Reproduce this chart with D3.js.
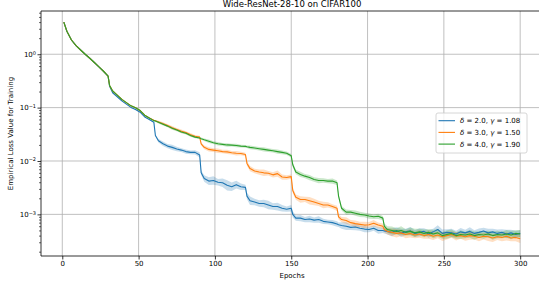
<!DOCTYPE html>
<html><head><meta charset="utf-8">
<script src="https://cdn.jsdelivr.net/npm/d3@7"></script>
<style>
html,body{margin:0;padding:0;background:#fff;overflow:hidden}
text{font-family:"DejaVu Sans",sans-serif;fill:#000}
</style></head><body>
<svg id="chart" width="539" height="285"></svg>
<script>
const title = "Wide-ResNet-28-10 on CIFAR100";
const xLabel = "Epochs";
const yLabel = "Empirical Loss Value for Training";
const xTicks = [0, 50, 100, 150, 200, 250, 300];
const yTicks = [1e-3, 1e-2, 1e-1, 1];
const seriesNames = [["2.0","1.08"],["3.0","1.50"],["4.0","1.90"]];

const epochs = [1,3,6,9,12,15,18,21,24,27,30,31,33,36,39,42,45,48,51,54,57,60,61,63,66,69,72,75,78,81,84,87,90,91,93,96,99,102,105,108,111,114,117,120,121,123,126,129,132,135,138,141,144,147,150,151,153,156,159,162,165,168,171,174,177,180,181,183,186,189,192,195,198,201,204,207,210,211,213,216,219,222,225,228,231,234,237,240,243,246,249,252,255,258,261,264,267,270,273,276,279,282,285,288,291,294,297,300];

const lossBlue = [4.0,2.7,1.85,1.45,1.2,1.0,0.84,0.70,0.58,0.48,0.39,0.25,0.19,0.16,0.134,0.116,0.101,0.092,0.082,0.067,0.06,0.053,0.03,0.024,0.021,0.019,0.018,0.0168,0.016,0.015,0.0145,0.0145,0.013,0.006,0.0047,0.0042,0.0043,0.004,0.0039,0.0035,0.0033,0.0036,0.0033,0.0032,0.0022,0.0018,0.0017,0.0016,0.0016,0.0015,0.0014,0.0014,0.0013,0.00125,0.0013,0.001,0.00085,0.00085,0.0008,0.00082,0.00078,0.0008,0.00074,0.00072,0.0007,0.00066,0.00064,0.00062,0.0006,0.00057,0.00058,0.00055,0.00053,0.00052,0.00055,0.0005,0.0005,0.00049,0.00048,0.00046,0.0005,0.00045,0.00047,0.00049,0.00044,0.00046,0.00048,0.00043,0.00047,0.00052,0.00044,0.00046,0.00045,0.00043,0.00047,0.00045,0.00048,0.00044,0.00046,0.00049,0.00045,0.00047,0.00044,0.00046,0.00043,0.00045,0.00042,0.00044];

const lossOrange = [4.0,2.7,1.85,1.45,1.2,1.0,0.84,0.70,0.58,0.48,0.39,0.26,0.205,0.172,0.143,0.124,0.108,0.099,0.088,0.072,0.064,0.058,0.057,0.054,0.05,0.046,0.042,0.039,0.036,0.034,0.031,0.029,0.028,0.021,0.018,0.0165,0.016,0.0155,0.015,0.0148,0.0143,0.014,0.0138,0.0132,0.009,0.0072,0.0065,0.0062,0.006,0.0059,0.0055,0.0058,0.005,0.0049,0.0051,0.0028,0.0021,0.0019,0.0019,0.0018,0.0017,0.0016,0.0015,0.0015,0.0014,0.0013,0.0009,0.0008,0.00077,0.0007,0.00067,0.00065,0.00063,0.00064,0.00068,0.00063,0.0006,0.00052,0.00048,0.00046,0.00044,0.00045,0.00042,0.00044,0.00041,0.00043,0.0004,0.00042,0.00039,0.00041,0.00038,0.0004,0.00042,0.00039,0.0004,0.00038,0.0004,0.00039,0.00037,0.00039,0.00038,0.00036,0.00038,0.00037,0.00039,0.00036,0.00037,0.00035];

const lossGreen = [4.0,2.7,1.85,1.45,1.2,1.0,0.84,0.70,0.58,0.48,0.39,0.26,0.205,0.172,0.143,0.124,0.108,0.099,0.088,0.072,0.064,0.057,0.056,0.053,0.049,0.045,0.041,0.038,0.035,0.033,0.03,0.028,0.027,0.0262,0.025,0.0235,0.022,0.021,0.0205,0.02,0.0198,0.0195,0.019,0.0188,0.0185,0.018,0.0175,0.017,0.0165,0.016,0.0155,0.015,0.0145,0.014,0.0125,0.0085,0.0062,0.0056,0.0052,0.0049,0.0045,0.0043,0.0043,0.0042,0.0042,0.0039,0.0022,0.0013,0.0011,0.0011,0.00105,0.001,0.00097,0.00093,0.0009,0.00092,0.00085,0.0006,0.00052,0.0005,0.00048,0.0005,0.00046,0.00048,0.00045,0.00047,0.00044,0.00046,0.00043,0.00045,0.0004,0.00042,0.00044,0.0004,0.00042,0.00041,0.00043,0.0004,0.00042,0.00041,0.00043,0.0004,0.00042,0.00041,0.00043,0.00041,0.00044,0.00043];

// band half-width, percent
const spreadBlue = [2,2,2,2,2,2,2,2,2,2,2,2,2,2,2,2,2,2,2,2,2,2,3,8,10,10,12,10,8,10,8,10,12,10,15,18,20,15,20,25,20,18,15,12,15,20,15,15,18,20,15,18,15,12,15,15,12,15,12,15,12,15,12,10,12,12,10,15,18,12,15,12,15,12,12,15,12,12,15,18,15,20,15,18,15,20,15,18,15,20,18,15,20,15,18,15,20,15,18,15,20,15,18,15,20,15,18,15];
const spreadOrange = [2,2,2,2,2,2,2,2,2,2,2,2,2,2,2,2,2,2,2,2,2,2,3,5,6,6,8,6,8,6,8,6,6,6,8,10,8,10,8,10,8,10,8,8,10,12,10,12,15,10,12,15,12,10,10,12,12,15,12,18,15,12,15,12,10,12,12,12,15,12,15,12,15,12,15,12,12,12,15,18,20,15,18,20,15,18,15,20,18,15,20,18,15,20,15,18,20,15,18,15,20,18,15,18,20,15,18,20];
const spreadGreen = [2,2,2,2,2,2,2,2,2,2,2,2,2,2,2,2,2,2,2,2,2,2,3,5,6,5,6,5,6,5,6,5,5,5,6,8,6,8,6,8,6,8,6,6,6,8,8,8,10,8,8,10,8,8,8,10,10,12,10,12,10,12,10,10,12,10,10,10,12,10,12,12,10,12,10,12,10,12,15,18,15,20,15,18,20,15,18,15,20,18,15,20,18,15,20,15,18,20,15,18,15,20,18,15,18,20,15,18];

const colors = ["#1f77b4", "#ff7f0e", "#2ca02c"];
const allLoss = [lossBlue, lossOrange, lossGreen];
const allSpread = [spreadBlue, spreadOrange, spreadGreen];

const L = 41, R = 543, T = 11, B = 256;
const svg = d3.select("#chart");
const x = d3.scaleLinear().domain([-13.95, 314.95]).range([L, R]);
const y = d3.scaleLog().domain([Math.pow(10, -3.78), Math.pow(10, 0.81)]).range([B, T]);

svg.append("defs").append("clipPath").attr("id", "clip")
  .append("rect").attr("x", L).attr("y", T).attr("width", R - L).attr("height", B - T);

// grid
const grid = svg.append("g");
xTicks.forEach(t => grid.append("line").attr("x1", x(t)).attr("x2", x(t)).attr("y1", T).attr("y2", B)
  .attr("stroke", "#b0b0b0").attr("stroke-width", 0.8));
yTicks.forEach(t => grid.append("line").attr("x1", L).attr("x2", R).attr("y1", y(t)).attr("y2", y(t))
  .attr("stroke", "#b0b0b0").attr("stroke-width", 0.8));

const plot = svg.append("g").attr("clip-path", "url(#clip)");
const area = d3.area().x(d => x(d.e)).y0(d => y(d.v / (1 + d.s / 100))).y1(d => y(d.v * (1 + d.s / 100)));
const line = d3.line().x(d => x(d.e)).y(d => y(d.v));

allLoss.forEach((loss, i) => {
  const data = epochs.map((e, j) => ({e: e, v: loss[j], s: allSpread[i][j]}));
  plot.append("path").datum(data).attr("d", area).attr("fill", colors[i]).attr("fill-opacity", 0.25).attr("stroke", "none");
});
allLoss.forEach((loss, i) => {
  const data = epochs.map((e, j) => ({e: e, v: loss[j]}));
  plot.append("path").datum(data).attr("d", line).attr("fill", "none").attr("stroke", colors[i])
    .attr("stroke-width", 1.1).attr("stroke-linejoin", "round");
});

// axes
const xAxis = d3.axisBottom(x).tickValues(xTicks).tickSize(3.5).tickPadding(2).tickFormat(d3.format("d"));
const gx = svg.append("g").attr("transform", `translate(0,${B})`).call(xAxis);
gx.select(".domain").remove();
gx.selectAll("text").attr("font-size", 7).attr("font-family", "DejaVu Sans").attr("fill", "#000");
gx.selectAll("line").attr("stroke", "#000").attr("stroke-width", 0.8);

const minor = [];
for (let p = -4; p <= 0; p++) for (let m = 2; m <= 9; m++) {
  const v = m * Math.pow(10, p);
  if (y(v) <= B && y(v) >= T) minor.push(v);
}
const gyMinor = svg.append("g").attr("transform", `translate(${L},0)`)
  .call(d3.axisLeft(y).tickValues(minor).tickSize(2).tickFormat(""));
gyMinor.select(".domain").remove();
gyMinor.selectAll("line").attr("stroke", "#000").attr("stroke-width", 0.6);

const gy = svg.append("g").attr("transform", `translate(${L},0)`)
  .call(d3.axisLeft(y).tickValues(yTicks).tickSize(3.5).tickPadding(2).tickFormat(""));
gy.select(".domain").remove();
gy.selectAll("line").attr("stroke", "#000").attr("stroke-width", 0.8);
gy.selectAll(".tick").each(function(d) {
  const p = Math.round(Math.log10(d));
  const t = d3.select(this).append("text").attr("x", -5).attr("dy", "0.32em")
    .attr("text-anchor", "end").attr("font-size", 7).attr("fill", "#000");
  t.append("tspan").text("10");
  t.append("tspan").attr("dy", "-0.45em").attr("font-size", 5).text(p === 0 ? "0" : "\u2212" + (-p));
});

// spines
svg.append("line").attr("x1", L).attr("x2", L).attr("y1", T).attr("y2", B).attr("stroke", "#000").attr("stroke-width", 0.8);
svg.append("line").attr("x1", L).attr("x2", R).attr("y1", B).attr("y2", B).attr("stroke", "#000").attr("stroke-width", 0.8);
svg.append("line").attr("x1", L).attr("x2", R).attr("y1", T).attr("y2", T).attr("stroke", "#000").attr("stroke-width", 0.8);

// labels
svg.append("text").attr("x", (L + R) / 2).attr("y", 6.5).attr("text-anchor", "middle").attr("font-size", 8.5).text(title);
svg.append("text").attr("x", (L + R) / 2).attr("y", 277.5).attr("text-anchor", "middle").attr("font-size", 7).text(xLabel);
svg.append("text").attr("transform", `translate(12.5,${(T + B) / 2}) rotate(-90)`).attr("text-anchor", "middle")
  .attr("font-size", 7).text(yLabel);

// legend
const lg = svg.append("g").attr("transform", "translate(436,113)");
lg.append("rect").attr("width", 91).attr("height", 40).attr("rx", 2).attr("fill", "#fff").attr("fill-opacity", 0.8)
  .attr("stroke", "#cccccc").attr("stroke-width", 0.8);
seriesNames.forEach((s, i) => {
  const yy = 7.7 + i * 11.7;
  lg.append("line").attr("x1", 2.5).attr("x2", 19).attr("y1", yy).attr("y2", yy).attr("stroke", colors[i]).attr("stroke-width", 1.1);
  const t = lg.append("text").attr("x", 24).attr("y", yy).attr("dy", "0.35em").attr("font-size", 7);
  t.append("tspan").attr("font-style", "italic").text("\u03b4");
  t.append("tspan").text(" = " + s[0] + ", ");
  t.append("tspan").attr("font-style", "italic").text("\u03b3");
  t.append("tspan").text(" = " + s[1]);
});
</script>
</body></html>
